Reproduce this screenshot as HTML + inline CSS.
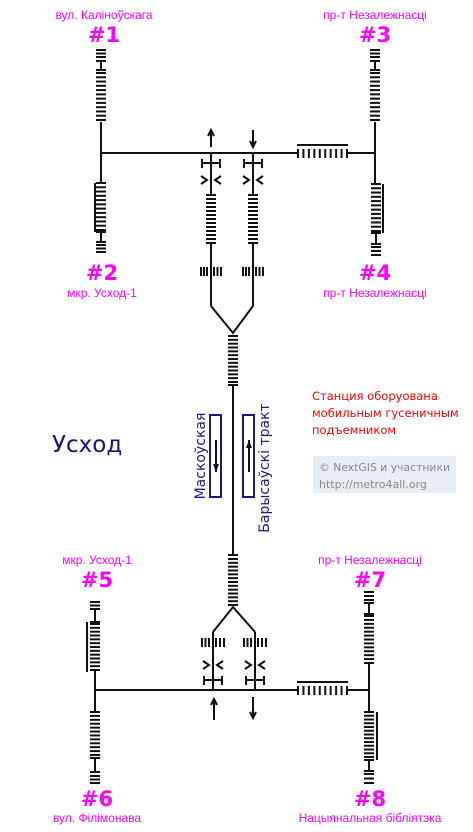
<!DOCTYPE html>
<html><head><meta charset="utf-8"><style>
html,body{margin:0;padding:0;background:#fff;}
svg{display:block;}
.m{fill:#ff00ff;font-family:"Liberation Sans","DejaVu Sans",sans-serif;font-size:12px;text-anchor:middle;}
.n{fill:#ff00ff;font-family:"DejaVu Sans","Liberation Sans",sans-serif;font-size:21px;font-weight:bold;text-anchor:middle;}
</style></head><body>
<svg id="s" width="473" height="832" viewBox="0 0 473 832" xmlns="http://www.w3.org/2000/svg">
<g id="g" stroke="#111" stroke-width="2" fill="none"></g>
<text class="m" x="104" y="19">вул. Каліноўскага</text>
<text class="n" x="104" y="42">#1</text>
<text class="m" x="375" y="19">пр-т Незалежнасці</text>
<text class="n" x="375" y="42">#3</text>
<text class="n" x="102" y="280">#2</text>
<text class="m" x="102" y="297">мкр. Усход-1</text>
<text class="n" x="375" y="280">#4</text>
<text class="m" x="375" y="297">пр-т Незалежнасці</text>
<text class="m" x="97" y="564">мкр. Усход-1</text>
<text class="n" x="97" y="587">#5</text>
<text class="m" x="370" y="564">пр-т Незалежнасці</text>
<text class="n" x="370" y="587">#7</text>
<text class="n" x="97" y="806">#6</text>
<text class="m" x="97" y="822">вул. Філімонава</text>
<text class="n" x="370" y="806">#8</text>
<text class="m" x="370" y="822">Нацыянальная бібліятэка</text>
<text x="52" y="452" fill="#14147a" font-family="'DejaVu Sans','Liberation Sans',sans-serif" font-size="23">Усход</text>
<g fill="#ff0000" font-family="'DejaVu Sans','Liberation Sans',sans-serif" font-size="11.5">
<text x="312" y="400">Станция оборуована</text>
<text x="312" y="417">мобильным гусеничным</text>
<text x="312" y="434">подъемником</text>
</g>
<rect x="313" y="456" width="143" height="37" fill="#e6edf4"/>
<g fill="#888" font-family="'DejaVu Sans','Liberation Sans',sans-serif" font-size="11" textLength="130">
<text x="319" y="471" textLength="131" lengthAdjust="spacingAndGlyphs">© NextGIS и участники</text>
<text x="319" y="488">http://metro4all.org</text>
</g>
<rect x="210" y="415" width="11" height="82" fill="none" stroke="#1a1a8c" stroke-width="2"/>
<rect x="243" y="415" width="11" height="82" fill="none" stroke="#1a1a8c" stroke-width="2"/>
<text transform="translate(205,456) rotate(-90)" text-anchor="middle" fill="#1a1a8c" font-family="'DejaVu Sans','Liberation Sans',sans-serif" font-size="14">Маскоўская</text>
<text transform="translate(269,468) rotate(-90)" text-anchor="middle" fill="#1a1a8c" font-family="'DejaVu Sans','Liberation Sans',sans-serif" font-size="14">Барысаўскі тракт</text>
</svg>
<script>
var g=document.getElementById('g');var NS='http://www.w3.org/2000/svg';
function L(x1,y1,x2,y2,w){var l=document.createElementNS(NS,'line');l.setAttribute('x1',x1);l.setAttribute('y1',y1);l.setAttribute('x2',x2);l.setAttribute('y2',y2);if(w)l.setAttribute('stroke-width',w);g.appendChild(l);}
function P(pts){var p=document.createElementNS(NS,'polyline');p.setAttribute('points',pts);g.appendChild(p);}
function VT(x,y1,y2,n,hw){hw=hw||5;for(var i=0;i<n;i++){var y=y1+(y2-y1)*i/(n-1);L(x-hw,y,x+hw,y);}}
function HT(y,x1,x2,n,hh,y0){for(var i=0;i<n;i++){var x=x1+(x2-x1)*i/(n-1);L(x,y0,x,y0+hh);}}
function Hv(x,y1,y2){L(x,y1,x,y2);L(x-5,y1,x+5,y1);L(x-5,y2,x+5,y2);}
function arrow(x,y1,y2){L(x,y1,x,y2);var d=y2>y1?-1:1;P((x-3)+','+(y2+d*6)+' '+x+','+y2+' '+(x+3)+','+(y2+d*6));}
function chev(x,y){P((x-10)+','+(y-4)+' '+(x-4)+','+y+' '+(x-10)+','+(y+4));P((x+10)+','+(y-4)+' '+(x+4)+','+y+' '+(x+10)+','+(y+4));}
L(101,122,101,182);L(101,153,297,153);L(347,153,375,153);
VT(101,50,57,3);Hv(101,61,70);VT(101,73,120,12);
VT(101,183,230,12);L(95,183,95,232);Hv(101,232,242);VT(101,245,252,3);
L(375,122,375,183);
VT(375,50,57,3);Hv(375,61,70);VT(375,73,120,12);
VT(376,184,231,12);L(383,184,383,233);Hv(376,233,244);VT(376,247,255,3);
HT(0,298,347,10,9,149);L(297,145,348,145);
[211,253].forEach(function(x){L(x,153,x,195);L(x-9,163,x+9,163);L(x-9,159,x-9,168);L(x+9,159,x+9,168);
chev(x,180);
VT(x,195,243,13);L(x,243,x,306);HT(0,x-10,x-4,3,9,267);HT(0,x+3,x+10,3,9,267);});
arrow(211,147,130);arrow(253,130,147);
P('211,306 233,333 253,306');
VT(233,336,382,13);L(233,385,233,555);L(228,385,238,385);L(228,555,238,555);
VT(233,559,605,13);
P('213,632 233,607 255,632');
[213,255].forEach(function(x){L(x,632,x,690);HT(0,x-11,x-4,3,9,638);HT(0,x+3,x+11,3,9,638);
chev(x,665);
L(x-9,680,x+9,680);L(x-9,676,x-9,685);L(x+9,676,x+9,685);});
arrow(214,720,699);arrow(253,697,718);
L(95,690,297,690);L(347,690,369,690);
VT(95,602,609,3);Hv(95,609,622);VT(95,624,670,13);L(87,622,87,672);L(95,670,95,712);
VT(95,712,755,12);Hv(95,758,772);VT(95,776,783,3);
VT(369,592,600,3);Hv(369,603,614);VT(369,616,663,13);L(369,663,369,712);
VT(369,712,757,13);L(377,712,377,760);Hv(369,760,771);VT(369,774,783,3);
HT(0,298,347,10,9,686);L(297,682,348,682);
var b=document.getElementById('s');
function BA(x,y1,y2){var l=document.createElementNS(NS,'line');l.setAttribute('x1',x);l.setAttribute('y1',y1);l.setAttribute('x2',x);l.setAttribute('y2',y2);l.setAttribute('stroke','#111');l.setAttribute('stroke-width','2');b.appendChild(l);var d=y2>y1?-1:1;var p=document.createElementNS(NS,'polygon');p.setAttribute('points',(x-3)+','+(y2+d*8)+' '+x+','+y2+' '+(x+3)+','+(y2+d*8));p.setAttribute('fill','#111');b.appendChild(p);}
BA(216,440,472);BA(249,472,440);
</script>
</body></html>
